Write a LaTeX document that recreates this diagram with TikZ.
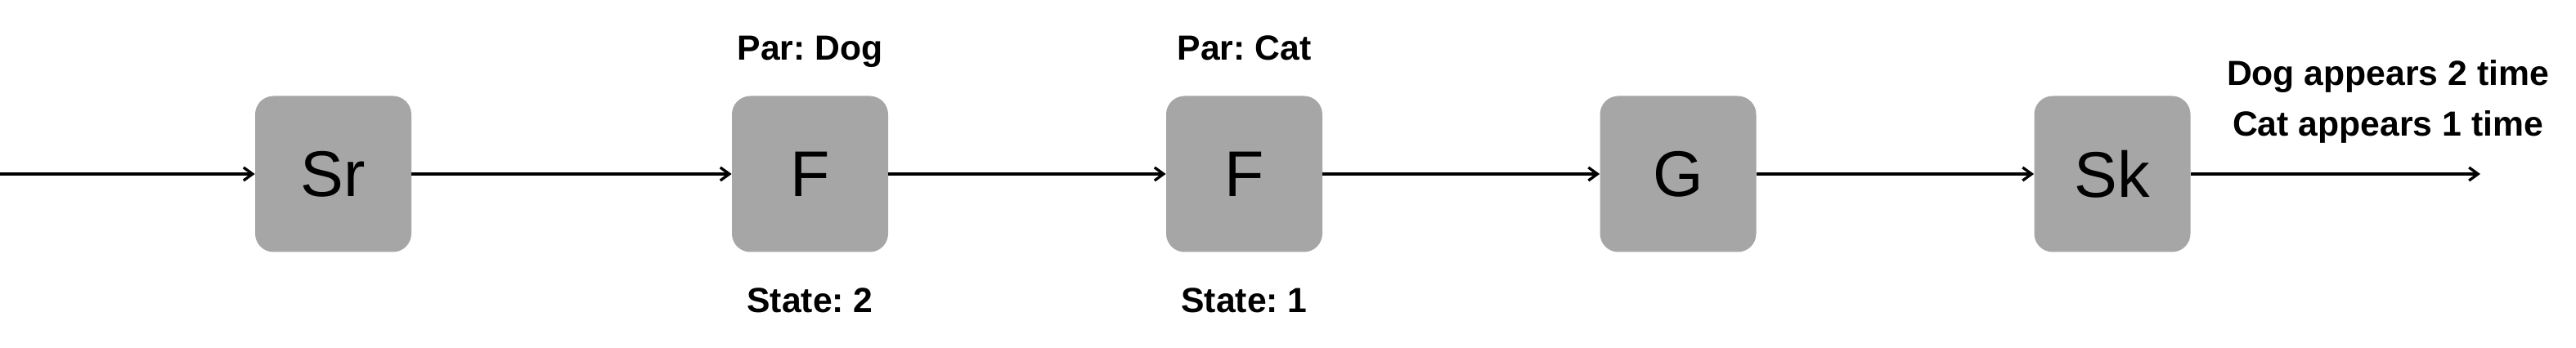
\documentclass[tikz,border=0pt]{standalone}
\usepackage{fontspec}
\setmainfont{Liberation Sans}
\usetikzlibrary{arrows.meta}
\frenchspacing

\begin{document}
\begin{tikzpicture}[
        op/.style={fill={rgb,255:red,166;green,166;blue,166},rounded corners=0.45cm,minimum width=3.82cm,minimum height=3.82cm,inner sep=0pt,font=\fontsize{45}{54}\selectfont},
        lbl/.style={anchor=base,inner sep=0pt,font=\fontsize{24.3}{29}\selectfont\bfseries},
        flow/.style={line width=1.9pt,-{Straight Barb[length=2.2mm,width=3.2mm,line width=1.9pt]}}]
        \useasboundingbox (0,0) rectangle (63,8.52);
        \coordinate (in) at (0,4.26);
        \coordinate (out) at (60.66,4.26);
        \node[op] (sr) at (8.15,4.26) {Sr};
        \node[op] (f1) at (19.81,4.26) {F};
        \node[op] (f2) at (30.43,4.26) {F};
        \node[op] (g) at (41.04,4.26) {G};
        \node[op] (sk) at (51.66,4.26) {Sk};
        \node[lbl] (par1) at (19.81,7.04) {Par: Dog};
        \node[lbl] (st1) at (19.81,0.86) {State: 2};
        \node[lbl] (par2) at (30.43,7.04) {Par: Cat};
        \node[lbl] (st2) at (30.43,0.86) {State: 1};
        \node[lbl] (res1) at (58.4,6.42) {Dog appears 2 time};
        \node[lbl] (res2) at (58.4,5.18) {Cat appears 1 time};
        \draw[flow] (in) -- (sr);
        \draw[flow] (sr) -- (f1);
        \draw[flow] (f1) -- (f2);
        \draw[flow] (f2) -- (g);
        \draw[flow] (g) -- (sk);
        \draw[flow] (sk) -- (out);
      \end{tikzpicture}
\end{document}
